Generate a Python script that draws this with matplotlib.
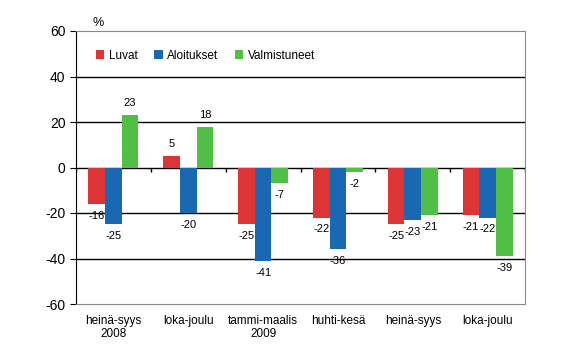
import numpy as np
import matplotlib.pyplot as plt

plt.rcParams["font.family"] = ["Liberation Sans", "DejaVu Sans"]
plt.rcParams["axes.unicode_minus"] = False

categories = ["heinä-syys\n2008", "loka-joulu", "tammi-maalis\n2009", "huhti-kesä", "heinä-syys", "loka-joulu"]
series_names = ["Luvat", "Aloitukset", "Valmistuneet"]
luvat = [-16, 5, -25, -22, -25, -21]
aloitukset = [-25, -20, -41, -36, -23, -22]
valmistuneet = [23, 18, -7, -2, -21, -39]

colors = ["#dd3535", "#1a68b2", "#50bf45"]

fig = plt.figure(figsize=(5.64, 3.60), dpi=100)
ax = fig.add_axes([76 / 564, 1 - 304 / 360, 449 / 564, 273 / 360])

x = np.arange(len(categories))
width = 0.222
offsets = [-width, 0, width]

for vals, name, color, off in zip([luvat, aloitukset, valmistuneet], series_names, colors, offsets):
    ax.bar(x + off, vals, width, color=color, label=name, zorder=3)
    for xi, v in zip(x + off, vals):
        ax.annotate(f"{v}", (xi, v), xytext=(0, 8.6 if v >= 0 else -8.6),
                    textcoords="offset points", ha="center", va="center", fontsize=8)

ax.set_xlim(-0.5, len(categories) - 0.5)
ax.set_ylim(-60, 60)
ax.set_yticks([-60, -40, -20, 0, 20, 40, 60])
ax.tick_params(axis="y", labelsize=10, length=4, direction="out", color="black")
for g in [-40, -20, 0, 20, 40]:
    ax.axhline(g, color="black", lw=1.0, zorder=2)

ax.set_xticks(x)
ax.set_xticklabels(categories, fontsize=8.5, linespacing=1.15)
ax.tick_params(axis="x", length=0, pad=8)

# small tick marks on the zero line between groups
ax.vlines(np.arange(len(categories) + 1) - 0.5, 0, -1.8, color="black", lw=1.0, zorder=4)

for side in ["top", "right", "bottom"]:
    ax.spines[side].set_color("#888888")
ax.spines["left"].set_color("black")

ax.legend(loc="upper left", bbox_to_anchor=(0.02, 0.97), ncol=3, frameon=False,
          fontsize=8.5, handlelength=0.75, handleheight=0.75, handletextpad=0.35,
          columnspacing=1.4)

fig.text(92 / 564, 1 - 23 / 360, "%", fontsize=9, va="center")

fig.savefig("out.png", dpi=100)
